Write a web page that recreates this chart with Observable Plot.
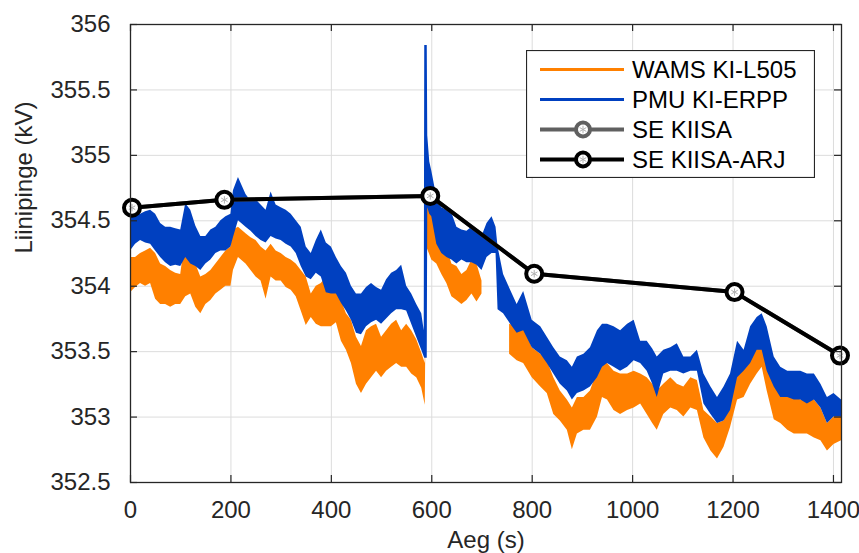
<!DOCTYPE html>
<html>
<head>
<meta charset="utf-8">
<script src="https://cdn.jsdelivr.net/npm/d3@7"></script>
<script src="https://cdn.jsdelivr.net/npm/@observablehq/plot@0.6"></script>
<style>
  html, body { margin: 0; padding: 0; background: #fff; }
  #wrap { position: relative; width: 859px; height: 553px; overflow: hidden; font-family: "Liberation Sans", Arial, sans-serif; }
  #legend { position: absolute; left: 526px; top: 50px; }
</style>
</head>
<body>
<div id="wrap"></div>
<script>
// ---- data ----
const xTicks = [0, 200, 400, 600, 800, 1000, 1200, 1400];
const yTicks = [352.5, 353, 353.5, 354, 354.5, 355, 355.5, 356];

// WAMS KI-L505 (orange): time and lower/upper envelope of the noisy trace
const wamsT  = [0,10,20,30,40,50,60,70,80,90,100,110,120,130,140,150,160,170,180,190,200,205,215,230,240,250,260,270,280,290,300,310,320,330,340,350,360,370,380,390,400,410,420,430,440,450,460,470,480,490,500,510,520,530,540,550,560,570,580,587,590,600,610,620,630,640,650,660,670,680,690,700,728,755,770,783,800,817,830,843,856,870,880,890,903,916,930,940,950,963,976,990,1003,1016,1029,1040,1049,1062,1076,1089,1102,1116,1129,1142,1156,1169,1182,1195,1209,1222,1235,1248,1258,1268,1282,1295,1309,1322,1335,1348,1362,1375,1388,1401,1416];
const wamsLo = [353.95,353.99,354.02,354.00,354.02,353.90,353.86,353.86,353.84,353.86,353.86,353.92,353.94,353.84,353.79,353.86,353.89,353.94,353.97,354.00,354.00,354.12,354.22,354.17,354.12,354.07,354.04,353.90,354.07,354.04,354.04,353.99,353.97,353.92,353.81,353.70,353.76,353.71,353.69,353.69,353.69,353.72,353.58,353.51,353.41,353.25,353.18,353.25,353.30,353.35,353.30,353.35,353.38,353.41,353.38,353.38,353.33,353.30,353.22,353.09,354.30,354.20,354.17,354.09,354.02,353.92,353.89,353.86,353.89,353.94,353.88,353.94,NaN,353.48,353.43,353.41,353.30,353.23,353.18,353.02,352.97,352.90,352.75,352.87,352.90,352.90,353.00,353.15,353.13,353.05,353.02,353.05,353.07,353.10,353.02,352.95,352.90,353.02,353.07,353.05,353.00,353.07,353.05,352.84,352.74,352.68,352.77,352.92,353.13,353.15,353.25,353.33,353.38,353.20,352.98,352.95,352.90,352.87,352.87,352.87,352.84,352.82,352.74,352.79,352.82];
const wamsHi = [354.22,354.22,354.25,354.27,354.29,354.25,354.17,354.15,354.12,354.10,354.09,354.38,354.32,354.17,354.07,354.09,354.12,354.17,354.22,354.27,354.30,354.43,354.45,354.40,354.37,354.35,354.30,354.27,354.32,354.27,354.25,354.22,354.20,354.17,354.12,354.07,353.94,354.00,354.02,354.07,354.02,353.97,353.89,353.79,353.74,353.61,353.54,353.66,353.69,353.71,353.61,353.66,353.71,353.74,353.66,353.71,353.66,353.59,353.49,353.41,354.70,354.63,354.50,354.43,354.30,354.17,354.15,354.09,354.12,354.20,354.17,354.04,NaN,353.71,353.69,353.71,353.53,353.48,353.43,353.30,353.20,353.13,353.07,353.15,353.15,353.20,353.35,353.41,353.41,353.35,353.33,353.33,353.35,353.33,353.30,353.25,353.20,353.25,353.30,353.25,353.23,353.30,353.28,353.05,353.00,352.95,352.97,353.15,353.43,353.41,353.51,353.56,353.61,353.51,353.30,353.20,353.15,353.15,353.13,353.13,353.13,353.07,352.95,353.00,353.02];

// PMU KI-ERPP (blue)
const pmuT  = [0,10,20,30,40,50,60,70,80,90,100,110,120,130,140,150,160,170,180,190,200,205,215,230,240,250,260,270,280,290,300,310,320,330,340,350,360,370,380,390,400,410,420,430,440,450,460,470,480,490,500,510,520,530,540,550,560,570,580,585,586,591,592,596,600,610,620,630,640,650,660,670,680,690,700,710,720,728,732,743,757,770,783,800,817,830,843,856,870,880,890,903,916,930,940,950,963,976,990,1003,1016,1029,1040,1049,1062,1076,1089,1102,1116,1129,1142,1156,1169,1182,1195,1209,1222,1235,1248,1258,1268,1282,1295,1309,1322,1335,1348,1362,1375,1388,1401,1416];
const pmuLo = [354.27,354.32,354.35,354.33,354.32,354.27,354.22,354.18,354.15,354.16,354.15,354.22,354.17,354.15,354.12,354.17,354.20,354.25,354.27,354.27,354.30,354.37,354.50,354.45,354.42,354.38,354.35,354.33,354.38,354.36,354.35,354.32,354.30,354.25,354.15,354.07,354.05,354.10,354.07,353.95,353.94,353.94,353.87,353.81,353.74,353.64,353.63,353.69,353.72,353.74,353.71,353.75,353.79,353.82,353.82,353.81,353.71,353.61,353.51,353.46,353.45,353.45,354.60,354.55,354.53,354.32,354.25,354.22,354.20,354.17,354.20,354.18,354.18,354.16,354.12,354.22,354.25,354.25,353.82,353.79,353.71,353.64,353.66,353.53,353.48,353.41,353.33,353.25,353.20,353.13,353.18,353.20,353.23,353.30,353.38,353.41,353.38,353.35,353.38,353.43,353.41,353.35,353.25,353.15,353.33,353.35,353.35,353.33,353.35,353.35,353.10,353.02,352.95,352.97,353.05,353.30,353.35,353.41,353.51,353.51,353.35,353.23,353.15,353.15,353.13,353.13,353.10,353.13,353.07,352.95,353.00,353.00];
const pmuHi = [354.53,354.55,354.55,354.57,354.58,354.55,354.48,354.45,354.45,354.44,354.43,354.63,354.58,354.46,354.38,354.38,354.43,354.45,354.50,354.53,354.55,354.73,354.83,354.70,354.65,354.66,354.62,354.58,354.72,354.62,354.60,354.58,354.55,354.50,354.45,354.30,354.25,354.35,354.43,354.33,354.30,354.22,354.15,354.10,354.00,353.94,353.94,353.99,354.02,353.99,353.97,354.05,354.10,354.12,354.16,354.00,353.94,353.86,353.79,353.66,355.84,355.84,355.15,354.95,354.88,354.68,354.60,354.58,354.56,354.45,354.43,354.42,354.45,354.42,354.38,354.48,354.53,354.45,354.30,354.09,353.97,353.86,353.96,353.74,353.69,353.61,353.53,353.46,353.43,353.38,353.46,353.48,353.53,353.66,353.71,353.71,353.69,353.66,353.71,353.74,353.58,353.58,353.52,353.46,353.51,353.53,353.56,353.46,353.46,353.51,353.33,353.23,353.15,353.23,353.33,353.58,353.51,353.69,353.76,353.79,353.69,353.46,353.38,353.35,353.35,353.35,353.33,353.33,353.25,353.15,353.18,353.13];

// State estimation results
const seT = [3, 187, 597, 804, 1203, 1413];
const seKiisaV = [354.60, 354.66, 354.69, 354.095, 353.955, 353.47];
const seArjV   = [354.60, 354.66, 354.69, 354.095, 353.955, 353.47];

const seriesNames = ["WAMS KI-L505", "PMU KI-ERPP", "SE KIISA", "SE KIISA-ARJ"];
const colors = { wams: "#ff8000", pmu: "#0040c0", seKiisa: "#606060", seArj: "#000000" };

// ---- tables built from the arrays ----
const wams = wamsT.map((t, i) => ({t, lo: wamsLo[i], hi: wamsHi[i]}));
const pmu  = pmuT.map((t, i) => ({t, lo: pmuLo[i], hi: pmuHi[i]}));
const seK  = seT.map((t, i) => ({t, v: seKiisaV[i]}));
const seA  = seT.map((t, i) => ({t, v: seArjV[i]}));

const W = 859, H = 553;
const mL = 130, mR = 18, mT = 24, mB = 71;
const frameW = W - mL - mR, frameH = H - mT - mB;
const tickLen = 7;
const axisColor = "#262626";

const chart = Plot.plot({
  width: W, height: H,
  marginLeft: mL, marginRight: mR, marginTop: mT, marginBottom: mB,
  style: { fontFamily: "'Liberation Sans', Arial, sans-serif", fontSize: "24px", color: axisColor, background: "white", overflow: "visible" },
  x: { domain: [0, 1416], axis: null },
  y: { domain: [352.5, 356], axis: null },
  marks: [
    // grid
    Plot.ruleX(xTicks, { x: d => d, stroke: "#dcdcdc", strokeWidth: 1 }),
    Plot.ruleY(yTicks, { y: d => d, stroke: "#dcdcdc", strokeWidth: 1 }),
    // data
    Plot.areaY(wams, { x: "t", y1: "lo", y2: "hi", fill: colors.wams, curve: "linear", clip: true }),
    Plot.areaY(pmu,  { x: "t", y1: "lo", y2: "hi", fill: colors.pmu, curve: "linear", clip: true }),
    Plot.line(seK, { x: "t", y: "v", stroke: colors.seKiisa, strokeWidth: 4 }),
    Plot.line(seA, { x: "t", y: "v", stroke: colors.seArj, strokeWidth: 4 }),
    Plot.dot(seA, { x: "t", y: "v", r: 8, fill: "white", stroke: colors.seArj, strokeWidth: 4 }),
    Plot.dot(seA, { x: "t", y: "v", r: 3.5, symbol: "asterisk", stroke: "#b0b0b0", strokeWidth: 1 }),
    // inward ticks on all four sides
    Plot.tickX(xTicks, { x: d => d, insetTop: frameH - tickLen, stroke: axisColor, strokeWidth: 1.2 }),
    Plot.tickX(xTicks, { x: d => d, insetBottom: frameH - tickLen, stroke: axisColor, strokeWidth: 1.2 }),
    Plot.tickY(yTicks, { y: d => d, insetRight: frameW - tickLen, stroke: axisColor, strokeWidth: 1.2 }),
    Plot.tickY(yTicks, { y: d => d, insetLeft: frameW - tickLen, stroke: axisColor, strokeWidth: 1.2 }),
    Plot.frame({ stroke: axisColor, strokeWidth: 1.3 }),
    // tick labels
    Plot.axisX(xTicks, { anchor: "bottom", tickSize: 0, tickPadding: 18, label: null, tickFormat: d => String(d), fill: axisColor }),
    Plot.axisY(yTicks, { anchor: "left", tickSize: 0, tickPadding: 20, label: null, tickFormat: d => String(d), fill: axisColor }),
    // axis titles
    Plot.text(["Aeg (s)"], { frameAnchor: "bottom", dy: 48, lineAnchor: "top", text: d => d, fill: axisColor, fontSize: 24 }),
    Plot.text(["Liinipinge (kV)"], { frameAnchor: "left", dx: -106, rotate: -90, lineAnchor: "middle", text: d => d, fill: axisColor, fontSize: 24 })
  ]
});

const wrap = document.getElementById("wrap");
wrap.appendChild(chart);

// ---- legend (inside the axes, top right) ----
const lw = 289, lh = 128;
const legend = d3.create("svg").attr("id", "legend").attr("width", lw).attr("height", lh)
  .style("font-family", "'Liberation Sans', Arial, sans-serif");
legend.append("rect").attr("x", 0.5).attr("y", 0.5).attr("width", lw - 1).attr("height", lh - 1)
  .attr("fill", "white").attr("stroke", axisColor).attr("stroke-width", 1.2);
const legendItems = [
  { name: seriesNames[0], color: colors.wams, width: 3, marker: false },
  { name: seriesNames[1], color: colors.pmu, width: 3, marker: false },
  { name: seriesNames[2], color: colors.seKiisa, width: 4, marker: true },
  { name: seriesNames[3], color: colors.seArj, width: 4, marker: true }
];
legendItems.forEach((it, i) => {
  const y = 19.5 + i * 30;
  const g = legend.append("g");
  g.append("line").attr("x1", 14).attr("x2", 98).attr("y1", y).attr("y2", y)
    .attr("stroke", it.color).attr("stroke-width", it.width);
  if (it.marker) {
    g.append("circle").attr("cx", 57).attr("cy", y).attr("r", 7).attr("fill", "white")
      .attr("stroke", it.color).attr("stroke-width", 4);
    g.append("path").attr("d", d3.symbol(d3.symbolAsterisk, 40)())
      .attr("transform", `translate(57,${y})`).attr("stroke", "#b0b0b0").attr("fill", "none").attr("stroke-width", 1);
  }
  g.append("text").attr("x", 106).attr("y", y).attr("dy", "0.35em")
    .attr("font-size", 24).attr("fill", "#000").text(it.name);
});
wrap.appendChild(legend.node());
</script>
</body>
</html>
